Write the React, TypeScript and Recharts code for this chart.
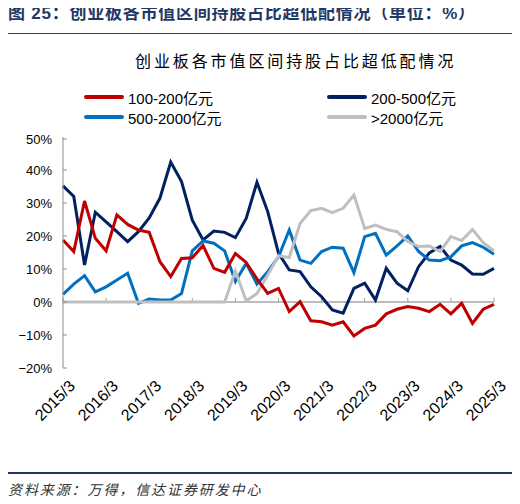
import { Line, LineChart, ReferenceLine, XAxis, YAxis } from "recharts";

const dates = [
  "2015/3", "2015/6", "2015/9", "2015/12",
  "2016/3", "2016/6", "2016/9", "2016/12",
  "2017/3", "2017/6", "2017/9", "2017/12",
  "2018/3", "2018/6", "2018/9", "2018/12",
  "2019/3", "2019/6", "2019/9", "2019/12",
  "2020/3", "2020/6", "2020/9", "2020/12",
  "2021/3", "2021/6", "2021/9", "2021/12",
  "2022/3", "2022/6", "2022/9", "2022/12",
  "2023/3", "2023/6", "2023/9", "2023/12",
  "2024/3", "2024/6", "2024/9", "2024/12",
  "2025/3",
];

const cap100to200 = [
  18.8, 15.3, 30.6, 19.3, 15.5, 26.4, 23.5, 21.8, 21.1, 12.2,
  7.7, 13.2, 13.4, 17.1, 10.2, 9.0, 14.7, 12.0, 7.0, 2.6,
  4.1, -2.9, 0.1, -5.7, -6.0, -7.0, -6.0, -10.3, -8.0, -7.0,
  -3.6, -2.2, -1.4, -1.9, -2.9, -0.7, -3.6, -0.4, -6.5, -2.2,
  -0.7,
];

const cap200to500 = [
  35.2, 32.0, 11.2, 27.2, 24.3, 21.3, 18.3, 21.3, 25.5, 31.5,
  42.4, 36.5, 24.8, 18.8, 21.5, 21.1, 19.5, 25.3, 36.3, 27.4,
  14.8, 9.7, 9.2, 4.6, 1.6, -2.4, -3.4, 4.1, 5.7, 0.6,
  10.2, 5.7, 3.4, 10.7, 14.9, 16.8, 12.7, 11.2, 8.5, 8.4,
  10.2,
];

const cap500to2000 = [
  2.3, 5.4, 8.0, 3.1, 4.6, 6.7, 8.7, -0.4, 0.9, 0.6,
  0.6, 2.6, 15.5, 18.5, 17.8, 15.5, 6.2, 11.7, 5.4, 9.2,
  13.7, 21.8, 12.7, 11.7, 15.3, 16.6, 16.3, 8.9, 19.8, 20.8,
  14.2, 17.0, 20.0, 15.3, 12.7, 12.5, 13.7, 17.0, 18.0, 16.6,
  14.5,
];

const capOver2000 = [
  0, 0, 0, 0, 0, 0, 0, 0, 0, 0,
  0, 0, 0, 0, 0, 0, 9.4, 0.3, 2.6, 8.2,
  14.0, 13.5, 23.8, 27.7, 28.4, 27.1, 28.4, 32.4, 22.3, 23.3,
  22.0, 21.3, 18.3, 16.8, 17.0, 15.3, 19.8, 18.6, 22.0, 18.0,
  15.5,
];

const yTicks = [-20, -10, 0, 10, 20, 30, 40, 50];
const yearTicks = dates.filter((d) => d.endsWith("/3"));

const series = [
  { key: "a", name: "100-200亿元", color: "#C00000", values: cap100to200 },
  { key: "b", name: "200-500亿元", color: "#002060", values: cap200to500 },
  { key: "c", name: "500-2000亿元", color: "#0070C0", values: cap500to2000 },
  { key: "d", name: ">2000亿元", color: "#BFBFBF", values: capOver2000 },
];

// draw order: navy, blue, grey, red
const drawOrder = ["b", "c", "d", "a"];

const data = dates.map((date, i) => {
  const row: Record<string, string | number> = { date };
  series.forEach((s) => {
    row[s.key] = s.values[i];
  });
  return row;
});

const FONT = "'Liberation Sans', Arial, 'Noto Sans CJK SC', sans-serif";
const AXIS_GREY = "#8C8C8C";

const YTick = (props: any) => {
  const { x, y, payload } = props;
  const label = `${payload.value}%`.replace("-", "\u2212");
  const axisX = x + 11;
  return (
    <g>
      <line x1={axisX} x2={axisX + 4} y1={y} y2={y} stroke={AXIS_GREY} strokeWidth={1} />
      <text x={x} y={y} dy="0.36em" textAnchor="end" fontSize={13} fill="#000" fontFamily={FONT}>
        {label}
      </text>
    </g>
  );
};

const XTick = (props: any) => {
  const { x, y, payload } = props;
  const tx = x + 5;
  const ty = y + 3;
  return (
    <text
      x={tx}
      y={ty}
      dy="0.71em"
      textAnchor="end"
      transform={`rotate(-45, ${tx}, ${ty})`}
      fontSize={16}
      fill="#000"
      fontFamily={FONT}
    >
      {payload.value}
    </text>
  );
};

export default function App() {
  return (
    <div style={{ position: "relative", width: 520, height: 504, margin: -8, background: "#fff", fontFamily: FONT }}>
      <div style={{ position: "absolute", left: 8, top: 4, fontSize: 17, fontWeight: "bold", letterSpacing: 0.75, color: "#1F3864", whiteSpace: "nowrap", lineHeight: "20px" }}>
        图 25：创业板各市值区间持股占比超低配情况（单位：%）
      </div>
      <div style={{ position: "absolute", left: 5, top: 33, width: 510, height: 1, background: "#404040" }} />
      <div style={{ position: "absolute", left: 135, top: 52, fontSize: 16, letterSpacing: 2.9, color: "#000", whiteSpace: "nowrap", lineHeight: "20px" }}>
        创业板各市值区间持股占比超低配情况
      </div>
      {series.map((s, i) => {
        const col = i % 2;
        const row = Math.floor(i / 2);
        const lineLeft = col === 0 ? 84 : 327;
        return (
          <div key={s.key} style={{ position: "absolute", left: lineLeft, top: 88 + row * 20, height: 18, display: "flex", alignItems: "center", whiteSpace: "nowrap" }}>
            <div style={{ width: 40, height: 4, borderRadius: 2, background: s.color, marginRight: 4 }} />
            <span style={{ fontSize: 15, color: "#000" }}>{s.name}</span>
          </div>
        );
      })}
      <div style={{ position: "absolute", left: 0, top: 130 }}>
        <LineChart width={520} height={300} data={data} margin={{ top: 7, right: 26, left: 0, bottom: 0 }}>
          <XAxis
            dataKey="date"
            interval={3}
            axisLine={false}
            tickLine={false}
            height={62}
            tick={<XTick />}
          />
          <YAxis
            type="number"
            domain={[-20, 50]}
            ticks={yTicks}
            width={63}
            tickMargin={5}
            tickLine={false}
            axisLine={{ stroke: AXIS_GREY }}
            tick={<YTick />}
          />
          <ReferenceLine y={0} stroke="#A6A6A6" strokeWidth={1.5} />
          {yearTicks.map((d) => (
            <ReferenceLine
              key={d}
              segment={[{ x: d, y: 0 }, { x: d, y: 1.3 }]}
              stroke="#A6A6A6"
              strokeWidth={1}
            />
          ))}
          {drawOrder.map((k) => {
            const s = series.find((x) => x.key === k)!;
            return (
              <Line
                key={s.key}
                type="linear"
                dataKey={s.key}
                name={s.name}
                stroke={s.color}
                strokeWidth={3}
                dot={false}
                isAnimationActive={false}
              />
            );
          })}
        </LineChart>
      </div>
      <div style={{ position: "absolute", left: 5, top: 472, width: 510, height: 2, background: "#1F3864" }} />
      <div style={{ position: "absolute", left: 8, top: 481, fontSize: 14, fontStyle: "italic", letterSpacing: 1.9, color: "#333", whiteSpace: "nowrap", lineHeight: "18px" }}>
        资料来源：万得，信达证券研发中心
      </div>
    </div>
  );
}
